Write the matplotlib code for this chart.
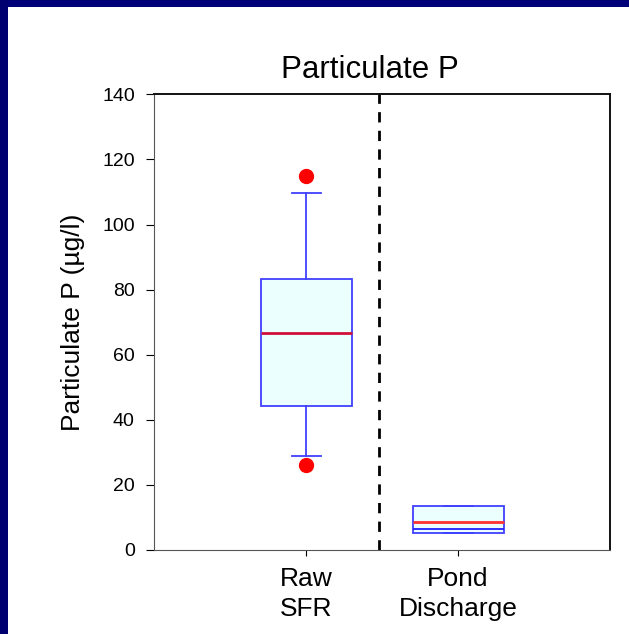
import matplotlib.pyplot as plt
from matplotlib.patches import Rectangle

plt.rcParams['font.family'] = ['Liberation Sans', 'DejaVu Sans']

# box statistics (µg/l)
groups = ['Raw\nSFR', 'Pond\nDischarge']
whislo = [28.8, 5.2]
q1 = [44.3, 5.2]
med = [66.7, 8.7]
q3 = [83.2, 13.5]
whishi = [109.7, 13.5]
fliers = [[114.9, 26.2], []]
extra_line = [None, 6.4]   # second blue line inside the pond box

yticks = [0, 20, 40, 60, 80, 100, 120, 140]
divider = 1.48

fig = plt.figure(figsize=(6.29, 6.34), dpi=100)
fig.patch.set_facecolor('white')
# navy slide border
fig.patches.append(Rectangle((0, 1 - 7 / 634), 1, 7 / 634, transform=fig.transFigure,
                             facecolor='#000078', edgecolor='none', zorder=0))
fig.patches.append(Rectangle((0, 0), 8 / 629, 1, transform=fig.transFigure,
                             facecolor='#000070', edgecolor='none', zorder=0))

ax = fig.add_axes([154.3 / 629, 84 / 634, 455.7 / 629, 455.7 / 634])

stats = []
for i in range(len(groups)):
    stats.append(dict(whislo=whislo[i], q1=q1[i], med=med[i], q3=q3[i],
                      whishi=whishi[i], fliers=fliers[i], label=groups[i]))

pos = list(range(1, len(groups) + 1))
bp = ax.bxp(stats, positions=pos, widths=0.6, capwidths=0.19, patch_artist=True,
            boxprops=dict(facecolor='#ebffff', edgecolor='#4040ff', linewidth=1.3),
            whiskerprops=dict(color='#4040ff', linewidth=1.3),
            capprops=dict(color='#4040ff', linewidth=1.3),
            medianprops=dict(color='#d0103a', linewidth=2),
            flierprops=dict(marker='o', markerfacecolor='red', markeredgecolor='red',
                            markersize=10))
bp['medians'][1].set_color('#ff3030')

for p, v in zip(pos, extra_line):
    if v is not None:
        ax.hlines(v, p - 0.3, p + 0.3, color='#2020ff', linewidth=1.3, zorder=3)

ax.axvline(divider, color='black', linewidth=2, dashes=(3.7, 3.0))

ax.set_xlim(0, 3)
ax.set_ylim(0, 140)
ax.set_yticks(yticks)
ax.set_xticks(pos)
ax.set_xticklabels(groups, fontsize=19, linespacing=1.3)
ax.tick_params(axis='y', direction='out', length=6, labelsize=14, pad=8)
ax.tick_params(axis='x', direction='out', length=4.5, pad=8)

for s in ['left', 'bottom']:
    ax.spines[s].set_color('#555555')
for s in ['top', 'right']:
    ax.spines[s].set_color('#111111')
    ax.spines[s].set_linewidth(1.4)

ax.set_ylabel('Particulate P (µg/l)', fontsize=19, labelpad=12)
ax.set_title('Particulate P', fontsize=22.5, x=0.473, pad=12)

fig.savefig('out.png', dpi=100)
